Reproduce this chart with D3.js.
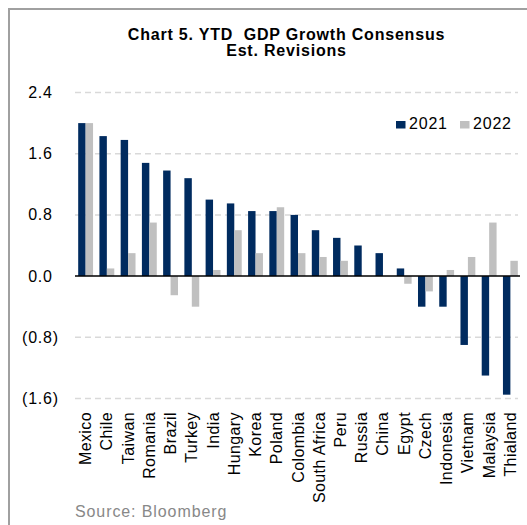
<!DOCTYPE html>
<html><head><meta charset="utf-8">
<script src="https://cdn.jsdelivr.net/npm/d3@7"></script>
<style>body{margin:0;background:#fff;} svg{display:block;font-family:"Liberation Sans",Arial,sans-serif;}</style>
</head><body>
<svg id="c" width="527" height="525"></svg>
<script>
const categories = ["Mexico","Chile","Taiwan","Romania","Brazil","Turkey","India","Hungary","Korea","Poland","Colombia","South Africa","Peru","Russia","China","Egypt","Czech","Indonesia","Vietnam","Malaysia","Thialand"];
const seriesNames = ["2021","2022"];
const values2021 = [2.0,1.83,1.78,1.48,1.38,1.28,1.0,0.95,0.85,0.85,0.8,0.6,0.5,0.4,0.3,0.1,-0.4,-0.4,-0.9,-1.3,-1.55];
const values2022 = [2.0,0.1,0.3,0.7,-0.25,-0.4,0.08,0.6,0.3,0.9,0.3,0.25,0.2,0,0,-0.1,-0.2,0.08,0.25,0.7,0.2];
const yTicks = [2.4,1.6,0.8,0.0,-0.8,-1.6];
const colors = ["#002b5f","#c0c0c0"];

const svg = d3.select("#c");
// frame
svg.append("rect").attr("x",9).attr("y",9).attr("width",540).attr("height",540)
  .attr("fill","none").attr("stroke","#a0a0a0").attr("stroke-width",2);

const x = d3.scaleBand().domain(categories).range([75,521]).paddingInner(0.3).paddingOuter(0.15);
const y = d3.scaleLinear().domain([-1.6,2.4]).range([398.5,92.5]);
const xs = d3.scaleBand().domain(seriesNames).range([0,x.bandwidth()]);

// title
svg.append("text").attr("x",286.5).attr("y",40).attr("text-anchor","middle")
  .attr("font-size",16).attr("font-weight","bold").attr("letter-spacing","0.8px").attr("fill","#000")
  .style("white-space","pre").text("Chart 5. YTD  GDP Growth Consensus");
svg.append("text").attr("x",286.5).attr("y",55.7).attr("text-anchor","middle")
  .attr("font-size",16).attr("font-weight","bold").attr("letter-spacing","0.8px").attr("fill","#000").text("Est. Revisions");

// gridlines
svg.append("g").selectAll("line").data(yTicks.filter(d=>d!==0)).join("line")
  .attr("x1",75).attr("x2",518).attr("y1",d=>y(d)).attr("y2",d=>y(d))
  .attr("stroke","#d9d9d9").attr("stroke-width",1.5).attr("stroke-dasharray","6,4");

// y labels
const fmt = d => d<0 ? "("+d3.format(".1f")(-d)+")" : d3.format(".1f")(d);
svg.append("g").selectAll("text").data(yTicks).join("text")
  .attr("x",40.5).attr("y",d=>y(d)+5.5).attr("text-anchor","middle")
  .attr("font-size",16).attr("letter-spacing","0.8px").attr("fill","#000").text(fmt);

// bars
const data = categories.map((c,i)=>({c, v:[values2021[i],values2022[i]]}));
const g = svg.append("g");
data.forEach(d=>{
  seriesNames.forEach((s,j)=>{
    const v = d.v[j];
    g.append("rect").attr("x",x(d.c)+xs(s)).attr("width",xs.bandwidth())
      .attr("y",y(Math.max(0,v))).attr("height",Math.abs(y(v)-y(0)))
      .attr("fill",colors[j]);
  });
});

// zero line
svg.append("line").attr("x1",75).attr("x2",520).attr("y1",y(0)).attr("y2",y(0))
  .attr("stroke","#000").attr("stroke-width",1.5);

// x labels
svg.append("g").selectAll("text").data(categories).join("text")
  .attr("transform",d=>`translate(${x(d)+x.bandwidth()/2+5.5},412) rotate(-90)`)
  .attr("text-anchor","end").attr("font-size",16).attr("letter-spacing","0.4px").attr("fill","#000").text(d=>d);

// legend
const leg = svg.append("g");
const legX = [396,460];
seriesNames.forEach((s,j)=>{
  leg.append("rect").attr("x",legX[j]).attr("y",121).attr("width",9.5).attr("height",7.5).attr("fill",colors[j]);
  leg.append("text").attr("x",legX[j]+13).attr("y",129).attr("font-size",16).attr("letter-spacing","0.8px").attr("fill","#000").text(s);
});

// source
svg.append("text").attr("x",75).attr("y",516.5).attr("font-size",16).attr("letter-spacing","0.9px").attr("fill","#888").text("Source: Bloomberg");
</script>
</body></html>
